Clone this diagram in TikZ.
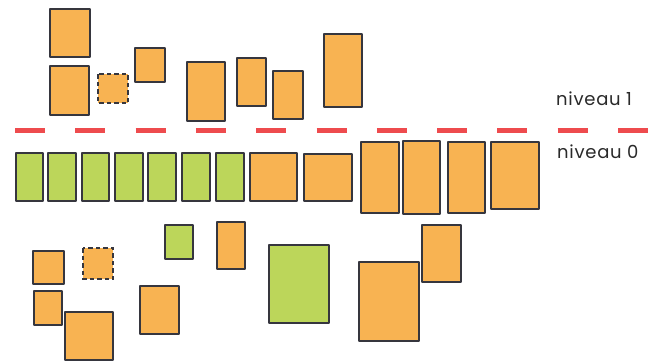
\documentclass[tikz,border=0pt]{standalone}
\usepackage{fontspec}
\setmainfont{Poppins}
\definecolor{orng}{HTML}{F8B352}
\definecolor{grn}{HTML}{BCD65A}
\definecolor{edge}{HTML}{36363E}
\definecolor{redd}{HTML}{EE4B4E}
\definecolor{txt}{HTML}{2A2A2A}
\begin{document}
\begin{tikzpicture}[x=1pt,y=-1pt,
  obox/.style={fill=orng,draw=edge,line width=2.2pt,line join=round},
  gbox/.style={fill=grn,draw=edge,line width=2.2pt,line join=round},
  dbox/.style={fill=orng,draw=edge,line width=2.2pt,dash pattern=on 4.5pt off 3pt},
  lvl/.style={anchor=base west,inner sep=0pt,text=txt,font=\fontsize{18}{20}\selectfont\addfontfeatures{LetterSpace=4}}]
\useasboundingbox[fill=white] (0,0) rectangle (650,362);
% level 1 (top)
\draw[obox] (50,9) rectangle (90,57);
\draw[obox] (50,66) rectangle (89,115);
\draw[dbox] (98,74) rectangle (128,103);
\draw[obox] (135,48) rectangle (165,82);
\draw[obox] (187,62) rectangle (225,121);
\draw[obox] (237,58) rectangle (266,106);
\draw[obox] (273,71) rectangle (303,119);
\draw[obox] (324,34) rectangle (362,107);
% separator
\draw[redd,line width=5pt,dash pattern=on 30pt off 30.3pt] (15,130.7) -- (650,130.7);
% level 0 row
\draw[gbox] (16,153) rectangle (43,201);
\draw[gbox] (48,153) rectangle (76,201);
\draw[gbox] (82,153) rectangle (109,201);
\draw[gbox] (115,153) rectangle (143,201);
\draw[gbox] (148,153) rectangle (176,201);
\draw[gbox] (182,153) rectangle (210,201);
\draw[gbox] (216,153) rectangle (244,201);
\draw[obox] (250,153) rectangle (297,201);
\draw[obox] (304,154) rectangle (352,201);
\draw[obox] (361,142) rectangle (399,213);
\draw[obox] (403,141) rectangle (440,214);
\draw[obox] (448,142) rectangle (485,213);
\draw[obox] (491,142) rectangle (539,209);
% lower
\draw[obox] (33,251) rectangle (64,284);
\draw[dbox] (83,248) rectangle (113,279);
\draw[gbox] (165,225) rectangle (193,259);
\draw[obox] (217,222) rectangle (245,269);
\draw[gbox] (269,245) rectangle (329,323);
\draw[obox] (422,225) rectangle (461,282);
\draw[obox] (359,262) rectangle (419,341);
\draw[obox] (34,291) rectangle (62,325);
\draw[obox] (65,312) rectangle (113,360);
\draw[obox] (140,286) rectangle (179,334);
% labels
\node[lvl] (n1) at (556,105) {niveau 1};
\node[lvl] (n0) at (557,158) {niveau 0};
\end{tikzpicture}
\end{document}
